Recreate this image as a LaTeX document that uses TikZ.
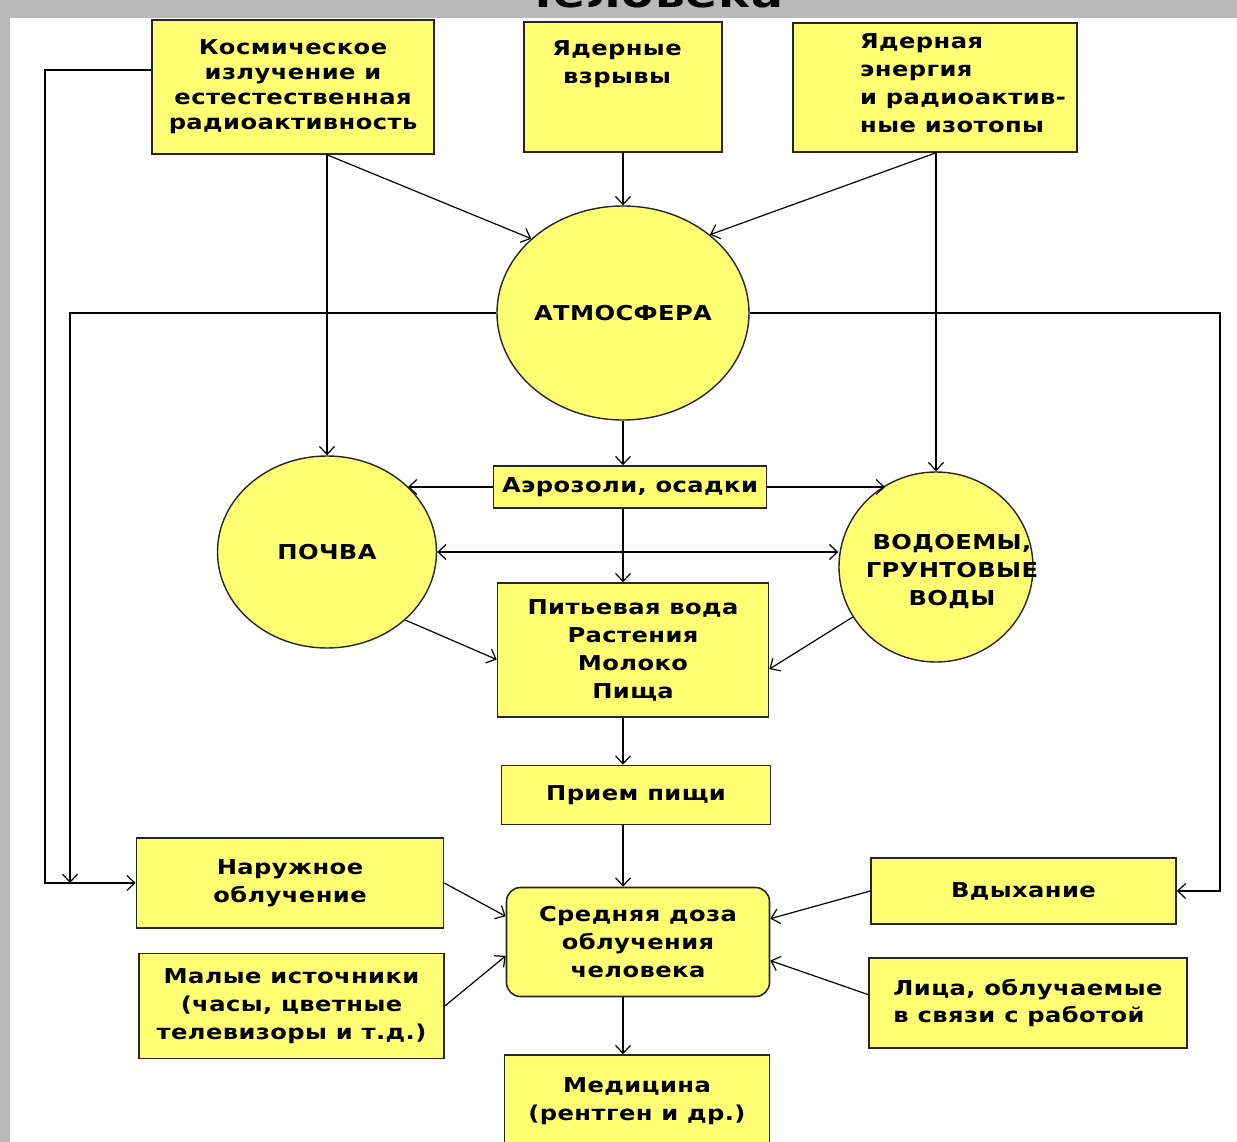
\documentclass[tikz,border=0pt]{standalone}
\usepackage{fontspec}
\setmainfont{DejaVu Sans}[FakeStretch=1.18,LetterSpace=2]
\usetikzlibrary{shapes.geometric,arrows.meta}
\definecolor{boxyellow}{RGB}{255,255,115}
\begin{document}
\begin{tikzpicture}[x=1pt,y=-1pt,>={Straight Barb[length=8pt,width=15pt]},
  every node/.style={font=\bfseries\fontsize{20.5}{28}\selectfont},
  box/.style={draw=black!85,line width=1.6pt,fill=boxyellow,inner sep=0pt,align=center},
  disc/.style={ellipse,draw=black!85,line width=1.4pt,fill=boxyellow,inner sep=0pt,align=center},
  wire/.style={line width=1.2pt},
  link/.style={wire,->},
  both/.style={wire,<->}]
\useasboundingbox (0,0) rectangle (1237,1142);
\clip (0,0) rectangle (1237,1142);
% frame
\fill[gray!55] (0,0) rectangle (1237,1142);
\fill[white] (10,18) rectangle (1237,1142);
\node[anchor=base,font=\bfseries\fontsize{40}{50}\selectfont] (title) at (652,8) {человека};
% sources
\node[box,minimum width=282pt,minimum height=134pt,font=\bfseries\fontsize{20.5}{25}\selectfont] (cosmic) at (293,87) {Космическое\\излучение и\\естестественная\\радиоактивность};
\node[box,minimum width=198pt,minimum height=130pt] (blasts) at (623,87) {};
\node[align=center] (blasts-txt) at (617,64) {Ядерные\\взрывы};
\node[box,minimum width=284pt,minimum height=129pt] (energy) at (935,87.5) {};
\node[align=left] (energy-txt) at (963,83) {Ядерная\\энергия\\и радиоактив-\\ные изотопы};
% environment
\node[disc,minimum width=252pt,minimum height=214pt] (atmos) at (623,313) {АТМОСФЕРА};
\node[box,minimum width=273pt,minimum height=42pt] (aerosol) at (630,487) {Аэрозоли, осадки};
\node[disc,minimum width=219pt,minimum height=192pt] (soil) at (327,552) {ПОЧВА};
\node[disc,minimum width=194pt,minimum height=190pt] (water) at (936,567) {};
\node[align=center] (water-txt) at (952,571) {ВОДОЕМЫ,\\ГРУНТОВЫЕ\\ВОДЫ};
\node[box,minimum width=271pt,minimum height=134pt] (food) at (633,650) {Питьевая вода\\Растения\\Молоко\\Пища};
\node[box,minimum width=269pt,minimum height=59pt] (intake) at (636,795) {Прием пищи};
% pathways to man
\node[box,minimum width=307pt,minimum height=90pt] (external) at (290,883) {Наружное\\облучение};
\node[box,minimum width=305pt,minimum height=105pt] (minor) at (291.5,1006) {Малые источники\\(часы, цветные\\телевизоры и т.д.)};
\node[box,rounded corners=14pt,minimum width=263pt,minimum height=109pt] (dose) at (638,942) {Средняя доза\\облучения\\человека};
\node[box,minimum width=305pt,minimum height=66pt] (inhale) at (1023.5,891) {Вдыхание};
\node[box,minimum width=318pt,minimum height=90pt,align=left] (workers) at (1028,1003) {Лица, облучаемые\\в связи с работой};
\node[box,minimum width=265pt,minimum height=92pt] (medicine) at (637,1101) {Медицина\\(рентген и др.)};
% bends
\coordinate (cosmic-bend) at (45,70);
\coordinate (atmos-left) at (70,0);
\coordinate (atmos-right) at (1220,0);
% connectors
\draw[link] (cosmic.west |- cosmic-bend) -- (cosmic-bend) -- (cosmic-bend |- external.west) -- (external.west);
\draw[link] (atmos.west) -- (atmos.west -| atmos-left) -- (atmos-left |- external.west);
\draw[link] (atmos.east) -- (atmos.east -| atmos-right) -- (atmos-right |- inhale.east) -- (inhale.east);
\draw[link] (cosmic.south -| soil.north) -- (soil.north);
\draw[link] (cosmic.south -| soil.north) -- (atmos.141);
\draw[link] (blasts.south) -- (atmos.north);
\draw[link] (energy.south -| water.north) -- (water.north);
\draw[link] (energy.south -| water.north) -- (atmos.42);
\draw[link] (atmos.south) -- (atmos.south |- aerosol.north);
\draw[link] (aerosol.west) -- (soil.39 |- aerosol.west);
\draw[link] (aerosol.east) -- (water.122 |- aerosol.east);
\draw[link] (aerosol.south -| atmos.south) -- (atmos.south |- food.north);
\draw[both] (soil.east) -- (soil.east -| water.west);
\draw[link] (soil.-41) -- (food.184);
\draw[link] (water.211) -- (food.-8);
\draw[link] (food.south -| atmos.south) -- (atmos.south |- intake.north);
\draw[link] (intake.south -| atmos.south) -- (atmos.south |- dose.north);
\draw[link] (dose.south -| atmos.south) -- (atmos.south |- medicine.north);
\draw[link] (external.east) -- (dose.169);
\draw[link] (minor.east) -- (dose.186);
\draw[link] (inhale.west) -- (dose.10);
\draw[link] (workers.177) -- (dose.-8);
\end{tikzpicture}
\end{document}
